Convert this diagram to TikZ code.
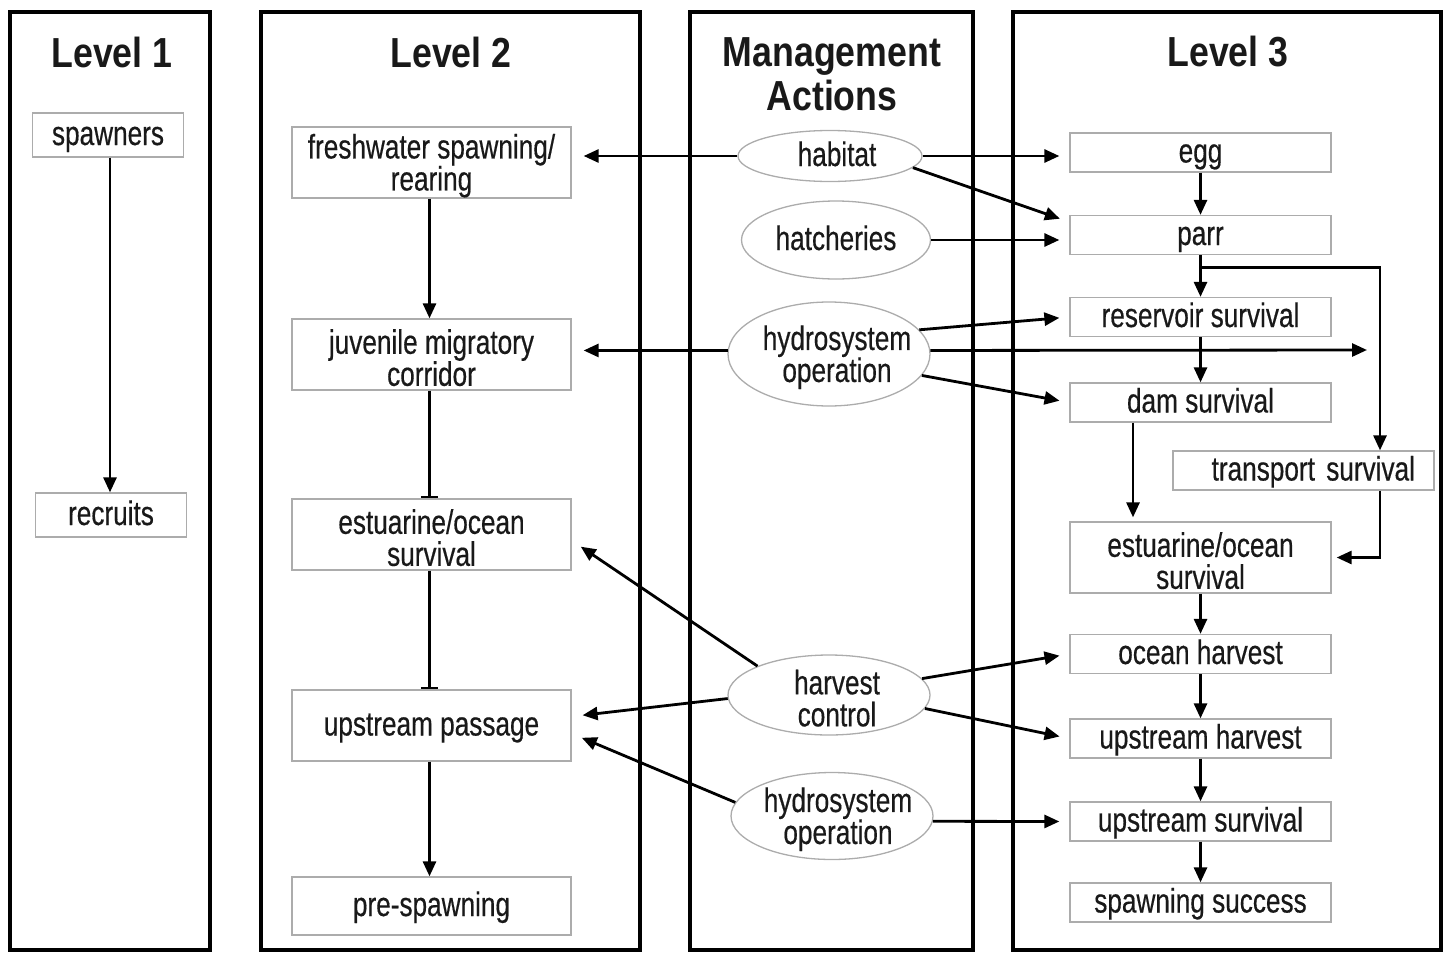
\documentclass[tikz,border=0pt]{standalone}
\usepackage{fontspec}
\setmainfont[FakeStretch=0.77,FakeBold=0.4]{Liberation Sans}
\newfontfamily\titlefont[FakeStretch=0.85]{Liberation Sans}
\usetikzlibrary{arrows.meta,shapes.geometric}
\begin{document}
\begin{tikzpicture}[x=1pt,y=-1pt,
 panel/.style={draw=black,line width=4pt},
 box/.style={draw=gray!65,line width=1.3pt,fill=white,inner sep=0pt,align=center,
   font=\fontsize{34}{32}\selectfont,text=black!90,minimum width=261pt,minimum height=39pt},
 one/.style={text height=28pt,text depth=8pt},
 two/.style={text height=63pt},
 ell/.style={ellipse,draw=gray!65,line width=1.3pt,fill=white,inner xsep=-30pt,inner ysep=-22pt,align=center,
   font=\fontsize{34}{32}\selectfont,text=black!90},
 arr/.style={line width=2.8pt,-{Triangle[length=15pt,width=13pt]}},
 tee/.style={line width=2.8pt,-{Bar[width=17pt,line width=2.8pt]}},
 title/.style={font=\titlefont\fontsize{42}{44}\selectfont\bfseries,align=center,text=black!90}
]
\useasboundingbox (0,0) rectangle (1447,953);
% panels
\draw[panel] (10,12) rectangle (210,950);
\draw[panel] (261,12) rectangle (640,950);
\draw[panel] (690,12) rectangle (973,950);
\draw[panel] (1013,12) rectangle (1441,950);
% titles
\node[title] (t1) at (112,52) {Level 1};
\node[title] (t2) at (451,52) {Level 2};
\node[title] (tm) at (832,74) {Management\\Actions};
\node[title] (t3) at (1228,52) {Level 3};
% level 1
\node[box,one,minimum width=151pt,minimum height=44pt] (sp) at (108,135) {spawners};
\node[box,one,minimum width=151pt,minimum height=44pt] (rec) at (111,515) {recruits};
% level 2
\node[box,two,minimum width=279pt,minimum height=71pt] (fresh) at (431.5,162.5) {freshwater spawning/\\rearing};
\node[box,two,minimum width=279pt,minimum height=71pt] (juv) at (431.5,354.5) {juvenile migratory\\corridor};
\node[box,two,minimum width=279pt,minimum height=71pt] (est2) at (431.5,534.5) {estuarine/ocean\\survival};
\node[box,one,minimum width=279pt,minimum height=71pt] (up) at (431.5,725.5) {upstream passage};
\node[box,one,minimum width=279pt,minimum height=58pt] (pre) at (431.5,906) {pre-spawning};
% management
\node[ell,one,minimum width=184pt,minimum height=51pt] (hab) at (830,156) {\hspace*{14pt}habitat};
\node[ell,one,minimum width=189pt,minimum height=78pt] (hat) at (836,240) {hatcheries};
\node[ell,two,minimum width=202pt,minimum height=104pt] (hyd1) at (829,354) {\hspace*{16pt}hydrosystem\\\hspace*{16pt}operation};
\node[ell,two,minimum width=202pt,minimum height=80pt] (harv) at (829,695) {\hspace*{16pt}harvest\\\hspace*{16pt}control};
\node[ell,two,minimum width=202pt,minimum height=87pt] (hyd2) at (832,816) {\hspace*{12pt}hydrosystem\\\hspace*{12pt}operation};
% level 3
\node[box,one] (egg) at (1200.5,152.5) {egg};
\node[box,one] (parr) at (1200.5,235) {parr};
\node[box,one] (res) at (1200.5,317) {reservoir survival};
\node[box,one] (dam) at (1200.5,402.5) {dam survival};
\node[box,one,text width=223pt,align=right,inner xsep=19pt] (trans) at (1303.5,470.5) {transport survival};
\node[box,two,minimum height=71pt] (est3) at (1200.5,557.5) {estuarine/ocean\\survival};
\node[box,one] (oh) at (1200.5,654) {ocean harvest};
\node[box,one] (uh) at (1200.5,738.5) {upstream harvest};
\node[box,one] (us) at (1200.5,821.5) {upstream survival};
\node[box,one] (ss) at (1200.5,902.5) {spawning success};
\coordinate (hydend) at (1367,350);
% level 1 connector
\draw[arr] ([xshift=2pt]sp.south) -- ([xshift=-1pt]rec.north);
% level 2 connectors
\draw[arr] ([xshift=-2pt]fresh.south) -- ([xshift=-2pt]juv.north);
\draw[tee] ([xshift=-2pt]juv.south) -- ([xshift=-2pt]est2.north);
\draw[tee] ([xshift=-2pt]est2.south) -- ([xshift=-2pt]up.north);
\draw[arr] ([xshift=-2pt]up.south) -- ([xshift=-2pt]pre.north);
% level 3 connectors
\draw[arr] (egg) -- (parr);
\draw[arr] (parr) -- (res);
\draw[arr] (res) -- (dam);
\draw[arr] ([yshift=-12pt]parr.south) -| ([xshift=76.5pt]trans.north);
\draw[arr] ([xshift=-67.5pt]dam.south) -- ([xshift=-67.5pt,yshift=4pt]est3.north);
\draw[arr] ([xshift=76.5pt]trans.south) |- ([xshift=5pt]est3.east);
\draw[arr] (est3) -- (oh);
\draw[arr] (oh) -- (uh);
\draw[arr] (uh) -- (us);
\draw[arr] (us) -- (ss);
% management connectors
\draw[arr,shorten >=12pt] (hab.west) -- (hab.west -| fresh.east);
\draw[arr,shorten >=10pt] (hab.east) -- (hab.east -| egg.west);
\draw[arr,shorten >=10pt] (hab.-8) -- ([yshift=13pt]parr.west);
\draw[arr,shorten >=10pt] (hat.east) -- (hat.east -| parr.west);
\draw[arr,shorten >=10pt] (hyd1.15) -- (res.west);
\draw[arr] (hyd1.2) -- (hydend);
\draw[arr,shorten >=10pt] (hyd1.-13) -- (dam.west);
\draw[arr,shorten >=12pt] (hyd1.178) -- (hyd1.178 -| juv.east);
\draw[arr,shorten >=11pt] (harv.158) -- ([yshift=-6pt]est2.east);
\draw[arr,shorten >=11pt] (harv.182) -- ([yshift=9pt]up.east);
\draw[arr,shorten >=10pt] (harv.10) -- (oh.west);
\draw[arr,shorten >=10pt] (harv.-8) -- (uh.west);
\draw[arr,shorten >=11pt] (hyd2.172) -- ([yshift=-8pt]up.east);
\draw[arr,shorten >=10pt] (hyd2.-3) -- (us.west);
\end{tikzpicture}
\end{document}
